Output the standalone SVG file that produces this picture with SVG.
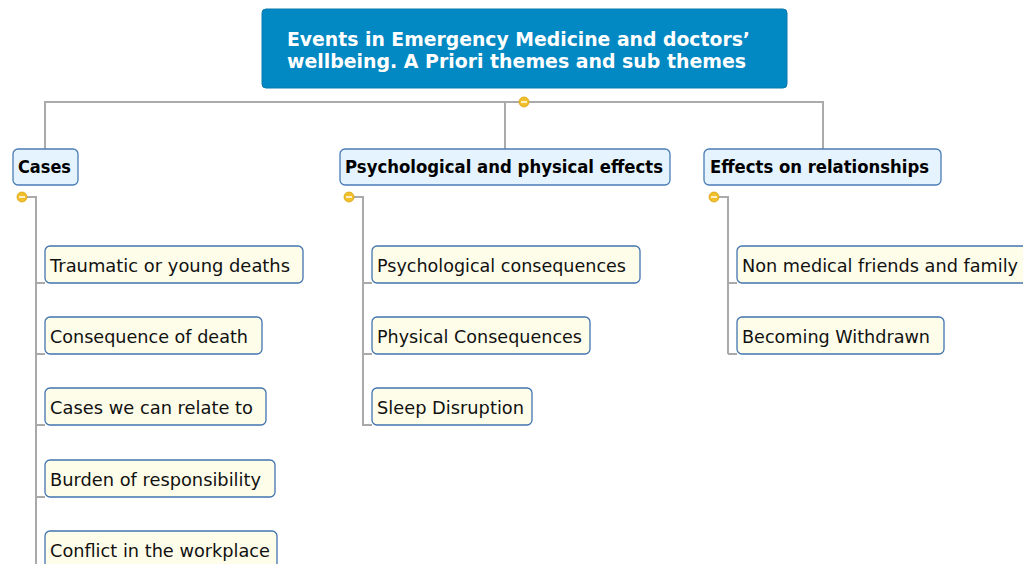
<svg xmlns="http://www.w3.org/2000/svg" width="1023" height="564" viewBox="0 0 1023 564">
<style>
.conn{fill:none;stroke:#aaaaaa;stroke-width:2}
.root{fill:#0288c2;stroke:#0a78ad;stroke-width:1}
.rt{font-family:"DejaVu Sans",Verdana,sans-serif;font-weight:bold;font-size:19.5px;fill:#ffffff}
.main{fill:#e4f3fd;stroke:#4a7cb5;stroke-width:1.3}
.mt{font-family:"DejaVu Sans",Verdana,sans-serif;font-weight:bold;font-size:17px;fill:#000}
.sub{fill:#fefde9;stroke:#4274b0;stroke-width:1.3}
.st{font-family:"DejaVu Sans",Verdana,sans-serif;font-size:17.5px;fill:#111}
.knob{fill:#f0bf2a;stroke:#d9a514;stroke-width:0.8}
.minus{stroke:#ffffff;stroke-width:1.5}
</style>
<rect width="1023" height="564" fill="#ffffff"/>
<g id="connectors">
<path class="conn" d="M45,149 V102 H823 V149 M505,102 V149"/>
<path class="conn" d="M27,197 H36 V564 M36,283 H45 M36,354 H45 M36,425 H45 M36,497 H45"/>
<path class="conn" d="M354,197 H363 V426 M363,283 H372 M363,354 H372 M363,425 H372"/>
<path class="conn" d="M719,197 H728 V354 M728,283 H737 M728,354 H737"/>
</g>
<g id="knobs">
<circle class="knob" cx="524" cy="102" r="5"/><line class="minus" x1="521" y1="102" x2="527" y2="102"/>
<circle class="knob" cx="22" cy="197" r="5"/><line class="minus" x1="19" y1="197" x2="25" y2="197"/>
<circle class="knob" cx="349" cy="197" r="5"/><line class="minus" x1="346" y1="197" x2="352" y2="197"/>
<circle class="knob" cx="714" cy="197" r="5"/><line class="minus" x1="711" y1="197" x2="717" y2="197"/>
</g>
<g id="root">
<rect class="root" x="262" y="9" width="525" height="79" rx="4"/>
<text class="rt" x="287" y="46" textLength="463" lengthAdjust="spacingAndGlyphs">Events in Emergency Medicine and doctors’</text>
<text class="rt" x="287" y="68" textLength="459" lengthAdjust="spacingAndGlyphs">wellbeing. A Priori themes and sub themes</text>
</g>
<g id="cases">
<rect class="main" x="13" y="149" width="65" height="36" rx="5"/>
<text class="mt" x="18" y="173" textLength="53" lengthAdjust="spacingAndGlyphs">Cases</text>
</g>
<g id="psych">
<rect class="main" x="340" y="149" width="330" height="36" rx="5"/>
<text class="mt" x="345" y="173" textLength="318" lengthAdjust="spacingAndGlyphs">Psychological and physical effects</text>
</g>
<g id="relationships">
<rect class="main" x="704" y="149" width="237" height="36" rx="5"/>
<text class="mt" x="710" y="173" textLength="219" lengthAdjust="spacingAndGlyphs">Effects on relationships</text>
</g>
<g id="traumatic">
<rect class="sub" x="45" y="246" width="258" height="37" rx="5"/>
<text class="st" x="50" y="271.5" textLength="240" lengthAdjust="spacingAndGlyphs">Traumatic or young deaths</text>
</g>
<g id="consequence">
<rect class="sub" x="45" y="317" width="217" height="37" rx="5"/>
<text class="st" x="50" y="342.5" textLength="198" lengthAdjust="spacingAndGlyphs">Consequence of death</text>
</g>
<g id="relate">
<rect class="sub" x="45" y="388" width="221" height="37" rx="5"/>
<text class="st" x="50" y="413.5" textLength="203" lengthAdjust="spacingAndGlyphs">Cases we can relate to</text>
</g>
<g id="burden">
<rect class="sub" x="45" y="460" width="230" height="37" rx="5"/>
<text class="st" x="50" y="485.5" textLength="211" lengthAdjust="spacingAndGlyphs">Burden of responsibility</text>
</g>
<g id="conflict">
<rect class="sub" x="45" y="531" width="232" height="37" rx="5"/>
<text class="st" x="50" y="556.5" textLength="220" lengthAdjust="spacingAndGlyphs">Conflict in the workplace</text>
</g>
<g id="psyccons">
<rect class="sub" x="372" y="246" width="268" height="37" rx="5"/>
<text class="st" x="377" y="271.5" textLength="249" lengthAdjust="spacingAndGlyphs">Psychological consequences</text>
</g>
<g id="physcons">
<rect class="sub" x="372" y="317" width="218" height="37" rx="5"/>
<text class="st" x="377" y="342.5" textLength="205" lengthAdjust="spacingAndGlyphs">Physical Consequences</text>
</g>
<g id="sleep">
<rect class="sub" x="372" y="388" width="160" height="37" rx="5"/>
<text class="st" x="377" y="413.5" textLength="147" lengthAdjust="spacingAndGlyphs">Sleep Disruption</text>
</g>
<g id="nonmedical">
<rect class="sub" x="737" y="246" width="300" height="37" rx="5"/>
<text class="st" x="742" y="271.5" textLength="276" lengthAdjust="spacingAndGlyphs">Non medical friends and family</text>
</g>
<g id="withdrawn">
<rect class="sub" x="737" y="317" width="207" height="37" rx="5"/>
<text class="st" x="742" y="342.5" textLength="188" lengthAdjust="spacingAndGlyphs">Becoming Withdrawn</text>
</g>
</svg>
